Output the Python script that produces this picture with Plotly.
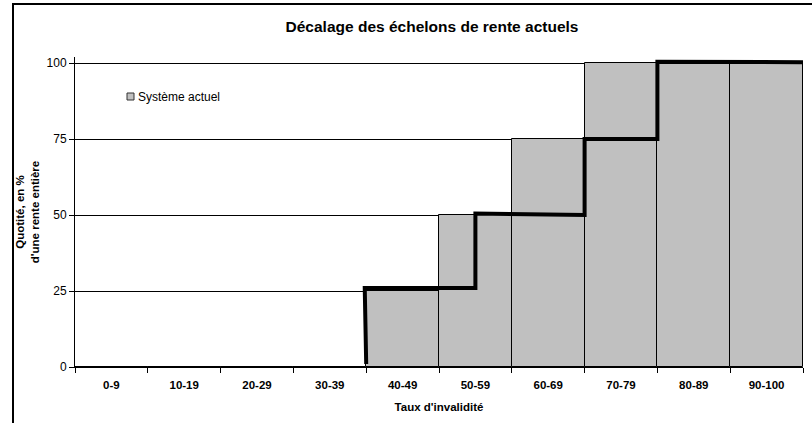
import plotly.graph_objects as go

categories = ["0-9", "10-19", "20-29", "30-39", "40-49", "50-59", "60-69", "70-79", "80-89", "90-100"]
systeme_actuel = [0, 0, 0, 0, 25, 50, 75, 100, 100, 100]

# step line (category position, value)
step_x = [3.5, 3.48, 5.0, 5.0, 6.5, 6.5, 7.5, 7.5, 9.5]
step_y = [1, 26, 26, 50.5, 50, 75, 75, 100.4, 100.3]

y_ticks = [0, 25, 50, 75, 100]

W, H = 812, 423
L, R, T, B = 75, 9, 57, 56
pw, ph = W - L - R, H - T - B
YMAX = 102  # a little headroom so the thick line at 100 is not clipped

font = "Liberation Sans, Arial, sans-serif"

def py(v):
    # paper y for a pixel row measured from the top of the page
    return (H - B - v) / ph

fig = go.Figure()
fig.add_trace(go.Bar(
    x=list(range(len(categories))), y=systeme_actuel, name="Système actuel",
    marker=dict(color="#C0C0C0", line=dict(color="#000000", width=1)),
    width=1.0, showlegend=False,
))
fig.add_trace(go.Scatter(
    x=step_x, y=step_y, mode="lines", showlegend=False,
    line=dict(color="#000000", width=4), hoverinfo="skip",
))

fig.update_layout(
    width=W, height=H,
    margin=dict(l=L, r=R, t=T, b=B),
    paper_bgcolor="white", plot_bgcolor="white",
    font=dict(family=font, size=12, color="black"),
    title=dict(text="<b>Décalage des échelons de rente actuels</b>",
               x=432 / W, xanchor="center", y=1 - 27 / H, yanchor="middle",
               font=dict(size=15.5, family=font)),
    bargap=0,
    showlegend=False,
    xaxis=dict(
        range=[-0.5, 9.5], tickmode="array",
        tickvals=list(range(len(categories))), ticktext=[f"<b>{c}</b>" for c in categories],
        ticks="", showgrid=False, zeroline=False,
        showline=True, linecolor="black", linewidth=1,
        tickfont=dict(size=11.5), ticklabelstandoff=7,
        minor=dict(tickmode="linear", tick0=-0.5, dtick=1, ticks="outside",
                   ticklen=5, tickcolor="black", tickwidth=1, showgrid=False),
        title=dict(text="<b>Taux d'invalidité</b>", font=dict(size=11.5), standoff=13),
    ),
    yaxis=dict(
        range=[0, YMAX], tickmode="array", tickvals=y_ticks,
        ticks="outside", ticklen=5, tickcolor="black",
        showgrid=True, gridcolor="black", gridwidth=1,
        zeroline=False, showline=True, linecolor="black", linewidth=1,
        tickfont=dict(size=12),
        title=dict(text="<b>Quotité, en %<br>d'une rente entière</b>", font=dict(size=11.5), standoff=4),
    ),
)

# legend (square + label)
fig.add_shape(type="rect", xref="paper", yref="paper",
              x0=(127 - L) / pw, x1=(134 - L) / pw,
              y0=py(100), y1=py(93),
              fillcolor="#C0C0C0", line=dict(color="#333333", width=1))
fig.add_annotation(xref="paper", yref="paper", x=(136 - L) / pw, y=py(97),
                   text="Système actuel", showarrow=False, xanchor="left", yanchor="middle",
                   font=dict(size=12))

# outer frame
fig.add_shape(type="rect", xref="paper", yref="paper",
              x0=(13 - L) / pw, x1=(830 - L) / pw,
              y0=-0.5, y1=py(4),
              line=dict(color="black", width=2), fillcolor="rgba(0,0,0,0)", layer="above")

fig.write_html("out.html", config={"displayModeBar": False},
               post_script="document.body.style.margin='0';document.body.style.overflow='hidden';")
